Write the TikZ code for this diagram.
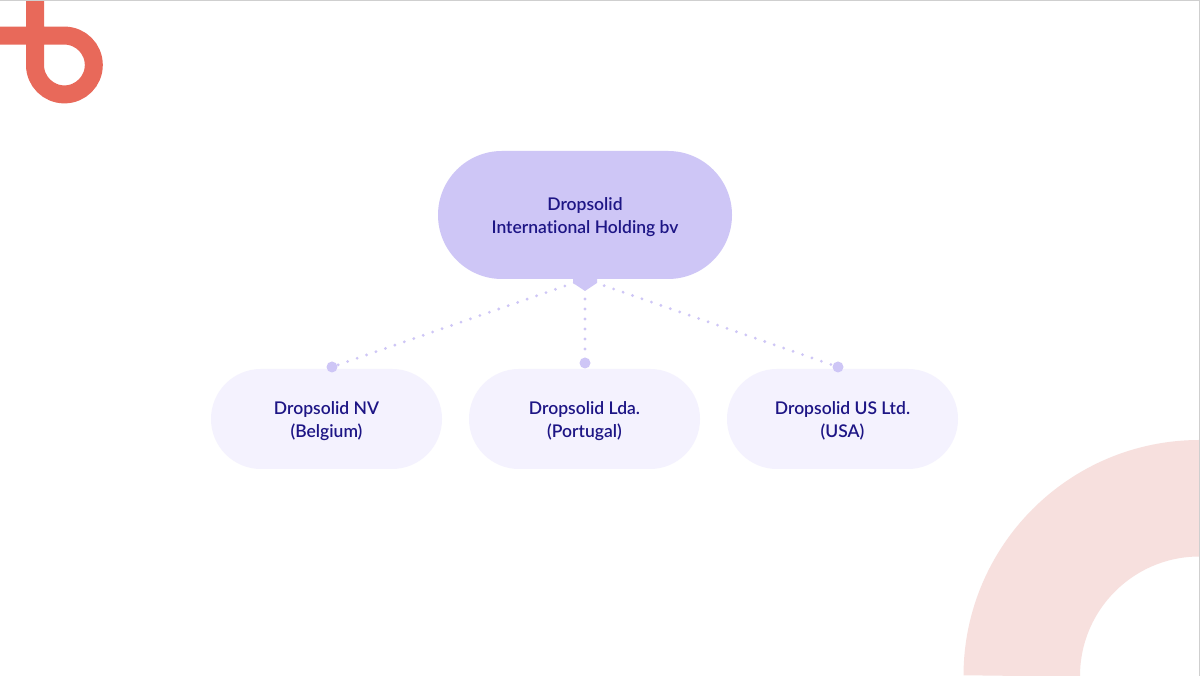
\documentclass[tikz,border=0pt]{standalone}
\usepackage{fontspec}
\setmainfont{Lato Semibold}[Ligatures=NoCommon]
\newcommand{\firstline}{\rule{0pt}{17pt}}
\definecolor{bigpill}{HTML}{CEC6F6}
\definecolor{smallpill}{HTML}{F4F2FE}
\definecolor{inktext}{HTML}{1D1585}
\definecolor{logored}{HTML}{E8695A}
\definecolor{arcpink}{HTML}{F7E0DE}
\definecolor{edgegray}{HTML}{CFCFCF}
\tikzset{
  x=1pt,y=1pt,
  parentpill/.style={draw=none,fill=bigpill,rectangle,rounded corners=64pt,minimum width=294pt,minimum height=128pt,inner sep=0pt,align=center,text=inktext,font=\fontsize{17.5}{23}\selectfont},
  childpill/.style={draw=none,fill=smallpill,rectangle,rounded corners=50pt,minimum width=231pt,minimum height=100pt,inner sep=0pt,align=center,text=inktext,font=\fontsize{17.5}{23}\selectfont},
  enddot/.style={circle,fill=bigpill,draw=none,minimum size=11pt,inner sep=0pt},
  dotline/.style={draw=bigpill,line width=3.1pt,line cap=round},
  logostroke/.style={draw=logored,line width=18pt}
}
\begin{document}
\begin{tikzpicture}
\useasboundingbox (0,0) rectangle (1200,676);
\fill[white] (0,0) rectangle (1200,676);
% decorative quarter ring
\draw[arcpink,line width=116.5pt] (1021.75,0) arc[start angle=180,end angle=90,radius=177.75] -- (1200,177.75);
% logo
\draw[logostroke] (35,676) -- (35,611) arc[start angle=180,end angle=450,radius=29.4] -- (0,640.4);
% nodes
\coordinate (apex) at (585,397);
\node[parentpill] (top) at (585,461) {\firstline Dropsolid\\International Holding bv};
\fill[bigpill] (573,397.5) -- (573,393) -- (585,385) -- (597,393) -- (597,397.5) -- cycle;
\node[childpill] (a) at (326.5,257) {\firstline Dropsolid NV\\(Belgium)};
\node[childpill] (b) at (584.5,257) {\firstline Dropsolid Lda.\\(Portugal)};
\node[childpill] (c) at (842.5,257) {\firstline Dropsolid US Ltd.\\(USA)};
\node[enddot] (dl) at (332,309) {};
\node[enddot] (dm) at (585,313) {};
\node[enddot] (dr) at (838,309) {};
% connectors
\draw[dotline,dash pattern=on 0pt off 10pt,dash phase=8.7pt] (apex) -- (dl);
\draw[dotline,dash pattern=on 0pt off 10pt,dash phase=0pt] (apex) -- (dm);
\draw[dotline,dash pattern=on 0pt off 10pt,dash phase=9.7pt] (apex) -- (dr);
% thin screenshot edge
\fill[edgegray] (0,675) rectangle (1200,676);
\fill[edgegray] (1199,0) rectangle (1200,676);
\end{tikzpicture}
\end{document}
